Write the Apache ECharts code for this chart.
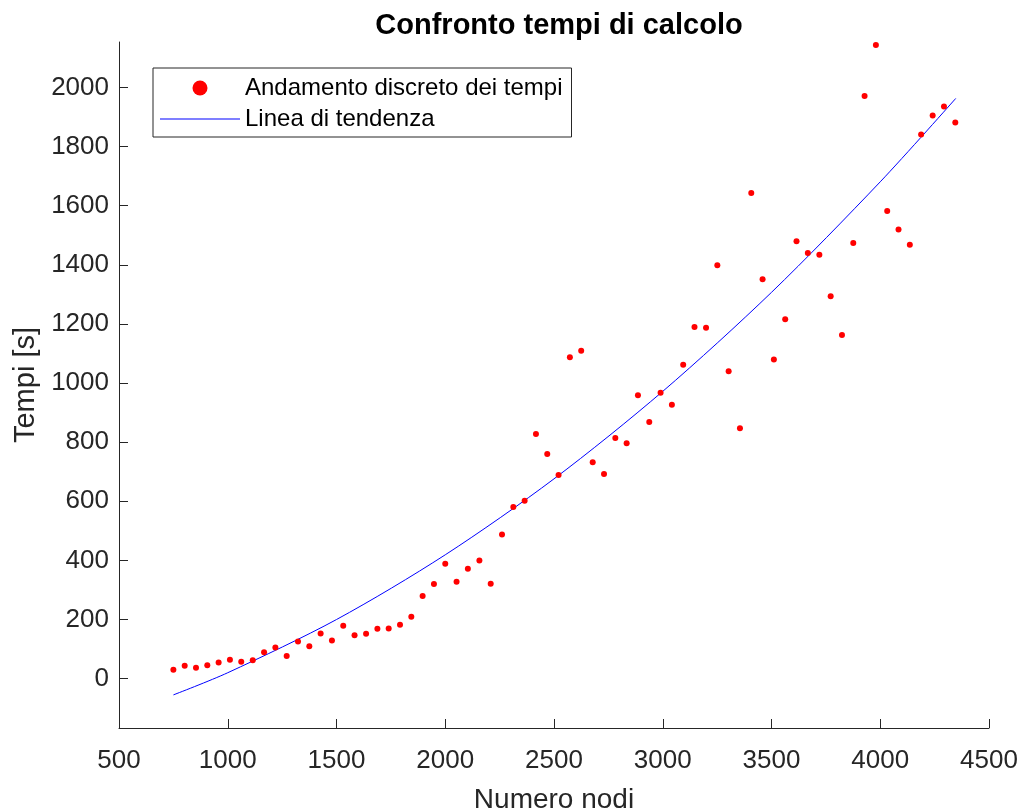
<!DOCTYPE html>
<html>
<head>
<meta charset="utf-8">
<script src="https://cdn.jsdelivr.net/npm/echarts@6/dist/echarts.min.js"></script>
<style>
  html, body { margin: 0; padding: 0; background: #fff; }
  #chart { width: 1022px; height: 812px; }
</style>
</head>
<body>
<div id="chart"></div>
<script>
// numero di nodi per ogni misura
const nodes = [750, 802, 854, 906, 958, 1010, 1062, 1115, 1167, 1219, 1271, 1323, 1375, 1427, 1479,
  1531, 1583, 1636, 1688, 1740, 1792, 1844, 1896, 1948, 2000, 2052, 2104, 2157, 2209, 2261,
  2313, 2365, 2417, 2469, 2521, 2573, 2625, 2678, 2730, 2782, 2834, 2886, 2938, 2990, 3042,
  3094, 3146, 3199, 3251, 3303, 3355, 3407, 3459, 3511, 3563, 3615, 3667, 3720, 3772, 3824,
  3876, 3928, 3980, 4032, 4084, 4136, 4188, 4241, 4293, 4345]
// tempi misurati [s]
const times = [30, 44, 37, 45, 55, 64, 57, 62, 89, 105, 77, 126, 110, 153, 129,
  179, 147, 152, 169, 170, 182, 209, 280, 320, 389, 328, 372, 400, 321, 488,
  581, 602, 828, 760, 689, 1087, 1109, 732, 692, 814, 796, 959, 868, 967, 927,
  1062, 1190, 1187, 1399, 1040, 847, 1643, 1351, 1080, 1216, 1480, 1440, 1434, 1294, 1163,
  1474, 1971, 2144, 1582, 1520, 1468, 1841, 1905, 1936, 1882]
// linea di tendenza
const trendX = [750, 1000, 1500, 2000, 2500, 3000, 3500, 4000, 4347]
const trendY = [-55, 20, 200, 419, 676, 972, 1307, 1681, 1963]
const yTicks = [0, 200, 400, 600, 800, 1000, 1200, 1400, 1600, 1800, 2000]

const axisColor = '#262626'
const font = 'Liberation Sans, Arial, Helvetica, sans-serif'

const chart = echarts.init(document.getElementById('chart'))

chart.setOption({
  animation: false,
  title: {
    text: 'Confronto tempi di calcolo',
    left: 554,
    textAlign: 'center',
    top: 6,
    textStyle: { fontFamily: font, fontSize: 29, fontWeight: 'bold', color: '#000' },
  },
  legend: {
    orient: 'vertical',
    left: 153,
    top: 68,
    padding: [8, 9, 6, 7],
    itemGap: 7,
    itemWidth: 80,
    itemHeight: 15,
    symbolKeepAspect: true,
    borderColor: axisColor,
    borderWidth: 1,
    backgroundColor: '#fff',
    textStyle: { fontFamily: font, fontSize: 24, color: '#000' },
    data: [
      { name: 'Andamento discreto dei tempi', icon: 'circle' },
      { name: 'Linea di tendenza', icon: 'path://M0,0H80V1H0Z' },
    ],
  },
  grid: {
    left: 119,
    right: 33,
    top: 42,
    bottom: 84,
    outerBoundsMode: 'none',
  },
  xAxis: {
    type: 'value',
    min: 500,
    max: 4500,
    interval: 500,
    name: 'Numero nodi',
    nameLocation: 'middle',
    nameGap: 58,
    nameTextStyle: { fontFamily: font, fontSize: 28, color: axisColor },
    axisLine: { onZero: false, lineStyle: { color: axisColor, width: 1 } },
    axisTick: { inside: true, length: 9, lineStyle: { color: axisColor } },
    axisLabel: { margin: 20, fontFamily: font, fontSize: 26, color: axisColor, formatter: v => String(v) },
    splitLine: { show: false },
  },
  yAxis: {
    type: 'value',
    min: -167,
    max: 2154,
    name: 'Tempi [s]',
    nameLocation: 'middle',
    nameGap: 78,
    nameTextStyle: { fontFamily: font, fontSize: 29, color: axisColor },
    axisLine: { show: true, onZero: false, lineStyle: { color: axisColor, width: 1 } },
    axisTick: { show: true, inside: true, length: 9, customValues: yTicks, lineStyle: { color: axisColor } },
    axisLabel: {
      margin: 10, fontFamily: font, fontSize: 26, color: axisColor,
      customValues: yTicks, formatter: v => String(v),
    },
    splitLine: { show: false },
  },
  series: [
    {
      name: 'Andamento discreto dei tempi',
      type: 'scatter',
      data: nodes.map((n, i) => [n, times[i]]),
      symbolSize: 6,
      itemStyle: { color: '#ff0000', opacity: 1 },
      z: 3,
    },
    {
      name: 'Linea di tendenza',
      type: 'line',
      data: trendX.map((n, i) => [n, trendY[i]]),
      symbol: 'none',
      showSymbol: false,
      smooth: 0.3,
      lineStyle: { color: '#0000ff', width: 1 },
      itemStyle: { color: '#0000ff' },
      z: 2,
    },
  ],
})
</script>
</body>
</html>
